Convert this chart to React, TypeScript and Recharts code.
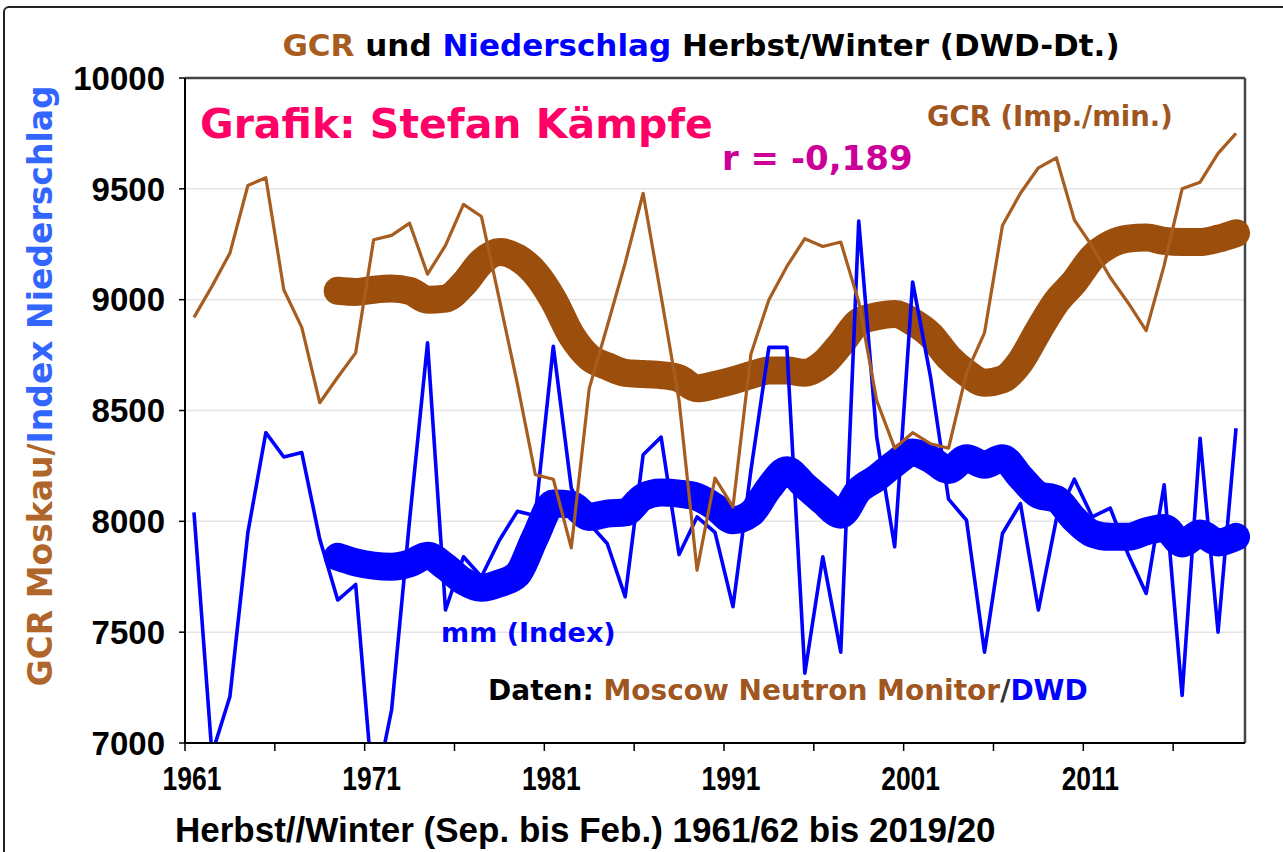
import React from 'react';
import { LineChart, Line, XAxis, YAxis, CartesianGrid, ReferenceLine } from 'recharts';

const years = [
  1961, 1962, 1963, 1964, 1965, 1966, 1967, 1968, 1969, 1970,
  1971, 1972, 1973, 1974, 1975, 1976, 1977, 1978, 1979, 1980,
  1981, 1982, 1983, 1984, 1985, 1986, 1987, 1988, 1989, 1990,
  1991, 1992, 1993, 1994, 1995, 1996, 1997, 1998, 1999, 2000,
  2001, 2002, 2003, 2004, 2005, 2006, 2007, 2008, 2009, 2010,
  2011, 2012, 2013, 2014, 2015, 2016, 2017, 2018, 2019,
];

// GCR Moskau (Imp./min.), thin brown line
const gcr = [
  8920, 9060, 9210, 9515, 9550, 9045, 8875, 8535, 8650, 8760,
  9270, 9290, 9345, 9115, 9245, 9430, 9375, 9000, 8620, 8210,
  8190, 7880, 8600, 8880, 9165, 9480, 9015, 8545, 7780, 8195,
  8065, 8755, 9000, 9150, 9275, 9240, 9260, 8990, 8545, 8330,
  8400, 8350, 8330, 8670, 8850, 9335, 9480, 9595, 9640, 9360,
  9240, 9100, 8985, 8860, 9155, 9500, 9530, 9660, 9750,
];

// Niederschlag (Index), thin blue line
const nied = [
  8040, 6950, 7210, 7950, 8400, 8290, 8310, 7920, 7645, 7715,
  6750, 7150, 8005, 8805, 7600, 7840, 7750, 7915, 8045, 8025,
  8790, 8150, 7990, 7900, 7660, 8300, 8380, 7850, 8020, 7950,
  7615, 8230, 8785, 8785, 7315, 7840, 7410, 9355, 8380, 7885,
  9080, 8650, 8100, 8005, 7410, 7945, 8080, 7600, 8010, 8190,
  8020, 8060, 7850, 7675, 8165, 7215, 8375, 7500, 8420,
];

// smoothed GCR, thick brown line
const gcrSmooth = [
  null, null, null, null, null, null, null, null, 9040, 9035,
  9045, 9050, 9040, 9000, 9005, 9070, 9170, 9215, 9190, 9120,
  9000, 8840, 8740, 8700, 8670, 8665, 8660, 8645, 8600, 8615,
  8635, 8660, 8680, 8680, 8670, 8710, 8800, 8900, 8925, 8935,
  8900, 8840, 8740, 8670, 8625, 8640, 8720, 8860, 8990, 9080,
  9190, 9250, 9275, 9280, 9265, 9260, 9260, 9275, 9300,
];

// smoothed Niederschlag, thick blue line
const niedSmooth = [
  null, null, null, null, null, null, null, null, 7840, 7815,
  7800, 7795, 7810, 7845, 7795, 7730, 7700, 7720, 7760, 7930,
  8080, 8075, 8020, 8035, 8040, 8110, 8130, 8125, 8110, 8065,
  8005, 8035, 8150, 8230, 8160, 8090, 8030, 8140, 8195, 8260,
  8310, 8280, 8232, 8285, 8255, 8285, 8200, 8120, 8100, 8010,
  7945, 7930, 7930, 7955, 7970, 7900, 7945, 7905, 7930,
];

const yTicks = [7000, 7500, 8000, 8500, 9000, 9500, 10000];
const xTickMarks = [1960.5, 1965.5, 1970.5, 1975.5, 1980.5, 1985.5, 1990.5, 1995.5, 2000.5, 2005.5, 2010.5, 2015.5];
const xTickLabels = [1961, 1971, 1981, 1991, 2001, 2011];

const data = years.map((year, i) => ({
  year,
  gcr: gcr[i],
  nied: nied[i],
  gcrS: gcrSmooth[i],
  niedS: niedSmooth[i],
}));

const allXTicks = [...xTickMarks, ...xTickLabels].sort((a, b) => a - b);

const BROWN_THIN = '#A65D1F';
const BROWN_THICK = '#9C4F0D';
const BLUE = '#0000FF';
const ARIAL = '"Liberation Sans", Arial, sans-serif';
const VERDANA = '"DejaVu Sans", Verdana, sans-serif';

const XTick = (props: any) => {
  const { x, y, payload } = props;
  const v = payload.value;
  if (xTickMarks.includes(v)) {
    return <line x1={x} y1={y} x2={x} y2={y + 8} stroke="#000" strokeWidth={1.5} />;
  }
  return (
    <text
      transform={`translate(${x - 2},${y + 47}) scale(0.8,1)`}
      textAnchor="middle"
      fontFamily={ARIAL}
      fontWeight="bold"
      fontSize={33}
      fill="#000"
    >
      {v}
    </text>
  );
};

export default function App() {
  return (
    <div style={{ position: 'absolute', left: 0, top: 0, width: 1283, height: 852, overflow: 'hidden', background: '#fff' }}>
      <div
        style={{
          position: 'absolute', left: 3, top: 6, width: 1320, height: 900,
          border: '2px solid #222', borderRadius: 6, boxSizing: 'border-box',
        }}
      />
      <div style={{ position: 'absolute', left: 0, top: 0 }}>
        <LineChart width={1283} height={852} data={data} margin={{ top: 78, right: 38, bottom: 0, left: 65 }}>
          <CartesianGrid vertical={false} stroke="#e4e4e4" strokeWidth={1.5} />
          <XAxis
            dataKey="year"
            type="number"
            domain={[1960.5, 2019.5]}
            ticks={allXTicks}
            interval={0}
            height={109}
            tickLine={false}
            tickSize={0}
            tickMargin={0}
            axisLine={{ stroke: '#000', strokeWidth: 2 }}
            tick={<XTick />}
          />
          <YAxis
            type="number"
            domain={[7000, 10000]}
            allowDataOverflow
            ticks={yTicks}
            interval={0}
            width={120}
            tickSize={6}
            tickMargin={14}
            axisLine={{ stroke: '#000', strokeWidth: 2 }}
            tickLine={{ stroke: '#000', strokeWidth: 1.5 }}
            tick={{ fontFamily: ARIAL, fontWeight: 'bold', fontSize: 33, fill: '#000' }}
          />
          <ReferenceLine y={10000} stroke="#444" strokeWidth={2.5} />
          <ReferenceLine x={2019.5} stroke="#444" strokeWidth={2.5} />
          <Line
            dataKey="gcrS"
            type="monotone"
            stroke={BROWN_THICK}
            strokeWidth={28}
            strokeLinecap="round"
            strokeLinejoin="round"
            dot={false}
            activeDot={false}
            isAnimationActive={false}
          />
          <Line
            dataKey="niedS"
            type="monotone"
            stroke={BLUE}
            strokeWidth={28}
            strokeLinecap="round"
            strokeLinejoin="round"
            dot={false}
            activeDot={false}
            isAnimationActive={false}
          />
          <Line
            dataKey="nied"
            type="linear"
            stroke={BLUE}
            strokeWidth={3.6}
            strokeLinejoin="round"
            dot={false}
            activeDot={false}
            isAnimationActive={false}
          />
          <Line
            dataKey="gcr"
            type="linear"
            stroke={BROWN_THIN}
            strokeWidth={3.2}
            strokeLinejoin="round"
            dot={false}
            activeDot={false}
            isAnimationActive={false}
          />
        </LineChart>
      </div>
      <svg width={1283} height={852} style={{ position: 'absolute', left: 0, top: 0, pointerEvents: 'none' }}>
        <text x={701} y={56} textAnchor="middle" fontFamily={VERDANA} fontWeight="bold" fontSize={31} fill="#000">
          <tspan fill={BROWN_THIN}>GCR</tspan>
          <tspan> und </tspan>
          <tspan fill={BLUE}>Niederschlag</tspan>
          <tspan> Herbst/Winter (DWD-Dt.)</tspan>
        </text>
        <text x={200} y={138} fontFamily={VERDANA} fontWeight="bold" fontSize={41} fill="#FF0066">
          Grafik: Stefan Kämpfe
        </text>
        <text x={722} y={170} fontFamily={VERDANA} fontWeight="bold" fontSize={34} fill="#CC0099">
          r = -0,189
        </text>
        <text x={927} y={126} fontFamily={VERDANA} fontWeight="bold" fontSize={27.5} fill="#A0561F">
          GCR (Imp./min.)
        </text>
        <text x={441} y={642} fontFamily={VERDANA} fontWeight="bold" fontSize={27} fill={BLUE}>
          mm (Index)
        </text>
        <text x={488} y={700} fontFamily={VERDANA} fontWeight="bold" fontSize={28} fill="#000">
          <tspan>Daten: </tspan>
          <tspan fill="#A0561F">Moscow Neutron Monitor</tspan>
          <tspan fill="#333">/</tspan>
          <tspan fill={BLUE}>DWD</tspan>
        </text>
        <text x={175} y={842} fontFamily={ARIAL} fontWeight="bold" fontSize={35} fill="#000">
          Herbst//Winter (Sep. bis Feb.) 1961/62 bis 2019/20
        </text>
        <text
          transform="translate(52,386) rotate(-90)"
          textAnchor="middle"
          fontFamily={VERDANA}
          fontWeight="bold"
          fontSize={33}
        >
          <tspan fill="#B0652A">GCR Moskau/</tspan>
          <tspan fill="#3366FF">Index Niederschlag</tspan>
        </text>
      </svg>
    </div>
  );
}
